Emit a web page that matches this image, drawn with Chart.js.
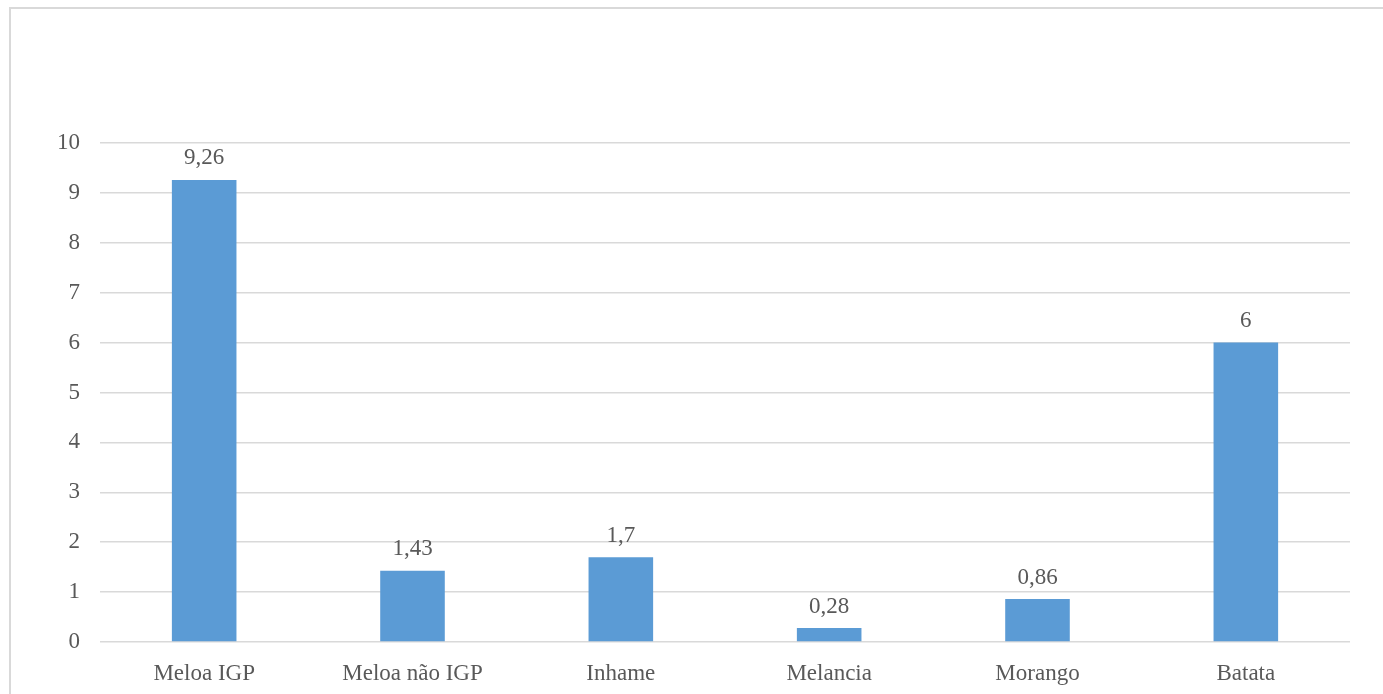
<!DOCTYPE html>
<html>
<head>
<meta charset="utf-8">
<script src="https://cdn.jsdelivr.net/npm/chart.js@4"></script>
<style>
  html, body { margin: 0; padding: 0; background: #fff; overflow: hidden; }
  #moldura { position: absolute; left: 9px; top: 7px; width: 1400px; height: 720px; border: 2px solid #d9d9d9; box-sizing: border-box; }
  #wrap { position: absolute; left: 0; top: 0; width: 1383px; height: 694px; }
</style>
</head>
<body>
<div id="moldura"></div>
<div id="wrap"><canvas id="grafico"></canvas></div>
<script>
// categorias e valores
const produtos = ["Meloa IGP", "Meloa não IGP", "Inhame", "Melancia", "Morango", "Batata"];
const valores = [9.26, 1.43, 1.7, 0.28, 0.86, 6];
const ticksY = [0, 1, 2, 3, 4, 5, 6, 7, 8, 9, 10];

const corTexto = "#595959";
const fonte = "'Liberation Serif', 'Times New Roman', serif";

// escreve o valor por cima de cada barra
const rotulos = {
    id: "rotulos",
    afterDatasetsDraw(chart) {
        let ctx = chart.ctx;
        let meta = chart.getDatasetMeta(0);
        ctx.save();
        ctx.font = "23px " + fonte;
        ctx.fillStyle = corTexto;
        ctx.textAlign = "center";
        ctx.textBaseline = "bottom";
        meta.data.forEach(function(barra, i) {
            let texto = valores[i].toString().replace(".", ",");
            ctx.fillText(texto, barra.x, barra.y - 10);
        });
        ctx.restore();
    }
};

let g = document.getElementById("grafico").getContext("2d");
new Chart(g, {
    type: "bar",
    data: {
        labels: produtos,
        datasets: [{
            data: valores,
            backgroundColor: "#5b9bd5",
            barPercentage: 0.31,
            categoryPercentage: 1
        }]
    },
    options: {
        responsive: true,
        maintainAspectRatio: false,
        animation: false,
        layout: { padding: { top: 143, right: 33, bottom: 0, left: 0 } },
        plugins: { legend: { display: false }, tooltip: { enabled: false } },
        scales: {
            x: {
                grid: { display: false },
                border: { display: false },
                ticks: { color: corTexto, font: { family: fonte, size: 23 }, padding: 10 },
                afterFit: function(s) { s.height = 52; }
            },
            y: {
                min: 0,
                max: 10,
                afterBuildTicks: function(s) { s.ticks = ticksY.map(v => ({ value: v })); },
                grid: { color: "#d9d9d9", lineWidth: 1.5, drawTicks: false },
                border: { display: false },
                ticks: { color: corTexto, font: { family: fonte, size: 23 }, padding: 20 },
                afterFit: function(s) { s.width = 100; }
            }
        }
    },
    plugins: [rotulos]
});
</script>
</body>
</html>
